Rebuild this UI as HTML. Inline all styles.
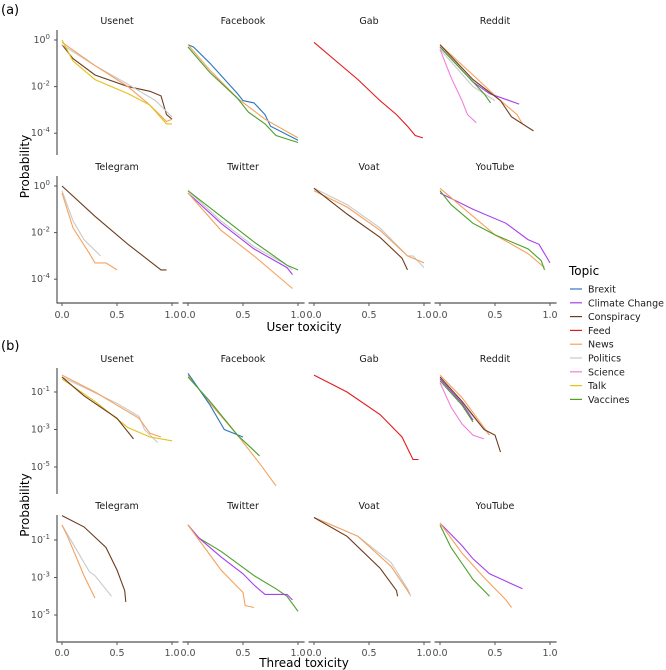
<!DOCTYPE html>
<html><head><meta charset="utf-8"><style>
html,body{margin:0;padding:0;background:#fff;}
svg{display:block;font-family:"DejaVu Sans","Liberation Sans",sans-serif;}
</style></head><body>
<svg id="chart" width="666" height="670" viewBox="0 0 666 670" xmlns="http://www.w3.org/2000/svg"></svg>
<script>
const topics = ["Brexit","Climate Change","Conspiracy","Feed","News","Politics","Science","Talk","Vaccines"];
const topicColors = ["#2b78c2","#a63ff0","#6e3b1c","#e31a1c","#f5a25d","#c9c9c9","#f27fd8","#e3c21a","#4aa02a"];
const platforms = ["Usenet","Facebook","Gab","Reddit","Telegram","Twitter","Voat","YouTube"];
const xTicks = [0, 0.5, 1.0];
const xTickLabels = ["0.0","0.5","1.0"];
const yTicksA = [0,-2,-4];
const yTicksB = [-1,-3,-5];
// series: [platformIndex, topic, x values, log10 probability values]
const seriesA = [
 [0,"Conspiracy",[0,0.1,0.3,0.6,0.8,0.9,0.95,1.0],[-0.2,-0.8,-1.5,-2.0,-2.2,-2.4,-3.2,-3.4]],
 [0,"Politics",[0,0.3,0.6,0.85,1.0],[-0.2,-1.1,-1.9,-2.6,-3.3]],
 [0,"News",[0,0.3,0.6,0.8,0.95,1.0],[-0.1,-1.1,-2.0,-2.8,-3.5,-3.4]],
 [0,"Talk",[0,0.1,0.3,0.6,0.8,0.95,1.0],[0,-0.9,-1.7,-2.3,-2.8,-3.6,-3.6]],
 [1,"Brexit",[0,0.05,0.2,0.45,0.5,0.6,0.7,0.75,1.0],[-0.2,-0.3,-1.0,-2.3,-2.6,-2.7,-3.2,-3.7,-4.3]],
 [1,"News",[0,0.2,0.45,0.7,1.0],[-0.2,-1.3,-2.5,-3.4,-4.2]],
 [1,"Vaccines",[0,0.2,0.45,0.55,0.7,0.8,1.0],[-0.3,-1.4,-2.5,-3.1,-3.6,-4.1,-4.4]],
 [2,"Feed",[0,0.2,0.4,0.6,0.75,0.85,0.92,0.99],[-0.1,-0.9,-1.7,-2.6,-3.2,-3.7,-4.1,-4.2]],
 [3,"Politics",[0,0.3,0.5],[-0.4,-2.0,-2.6]],
 [3,"News",[0,0.3,0.55,0.7,0.75],[-0.2,-1.5,-2.6,-3.2,-3.6]],
 [3,"Climate Change",[0,0.3,0.45,0.72],[-0.3,-1.8,-2.3,-2.75]],
 [3,"Vaccines",[0,0.2,0.4,0.46],[-0.3,-1.3,-2.3,-2.7]],
 [3,"Science",[0,0.1,0.2,0.25,0.33],[-0.4,-1.6,-2.6,-3.2,-3.55]],
 [3,"Conspiracy",[0,0.3,0.55,0.65,0.85],[-0.2,-1.7,-2.6,-3.3,-3.9]],
 [4,"Conspiracy",[0,0.3,0.6,0.9,0.95],[0,-1.3,-2.5,-3.6,-3.6]],
 [4,"Politics",[0,0.1,0.2,0.35],[-0.2,-1.5,-2.3,-3.0]],
 [4,"News",[0,0.1,0.25,0.3,0.4,0.5],[-0.3,-1.8,-2.9,-3.3,-3.3,-3.6]],
 [5,"Politics",[0,0.3,0.6,0.9,0.95],[-0.2,-1.5,-2.6,-3.4,-3.6]],
 [5,"Vaccines",[0,0.3,0.6,0.9,1.0],[-0.2,-1.3,-2.4,-3.4,-3.6]],
 [5,"Climate Change",[0,0.3,0.6,0.9,0.95],[-0.3,-1.6,-2.7,-3.5,-3.8]],
 [5,"News",[0,0.3,0.6,0.8,0.95],[-0.3,-1.9,-3.0,-3.8,-4.4]],
 [6,"Politics",[0,0.3,0.6,0.85,0.9,1.0],[-0.1,-0.8,-1.8,-3.0,-3.0,-3.5]],
 [6,"News",[0,0.3,0.6,0.85,1.0],[-0.2,-0.9,-1.9,-3.0,-3.3]],
 [6,"Conspiracy",[0,0.3,0.6,0.8,0.85],[-0.1,-1.2,-2.2,-3.1,-3.6]],
 [7,"Climate Change",[0,0.3,0.6,0.8,0.9,1.0],[-0.3,-1.0,-1.6,-2.3,-2.5,-3.3]],
 [7,"News",[0,0.3,0.5,0.8,0.95],[-0.1,-1.3,-2.1,-2.9,-3.5]],
 [7,"Vaccines",[0,0.1,0.3,0.5,0.8,0.92,0.95],[-0.2,-0.8,-1.6,-2.1,-2.7,-3.2,-3.6]]
];
const seriesB = [
 [0,"Politics",[0,0.5,0.7,0.75,0.87],[-0.2,-1.6,-2.3,-3.0,-3.7]],
 [0,"News",[0,0.3,0.7,0.8,0.9],[-0.1,-1.0,-2.4,-3.2,-3.4]],
 [0,"Talk",[0,0.3,0.6,0.8,1.0],[-0.3,-1.5,-2.9,-3.4,-3.6]],
 [0,"Conspiracy",[0,0.2,0.4,0.5,0.65],[-0.2,-1.2,-2.0,-2.4,-3.5]],
 [1,"News",[0,0.2,0.45,0.65,0.8],[-0.1,-1.6,-3.3,-4.8,-6.0]],
 [1,"Brexit",[0,0.2,0.33,0.5],[0,-1.7,-3.0,-3.4]],
 [1,"Vaccines",[0,0.2,0.45,0.65],[-0.2,-1.5,-3.3,-4.4]],
 [2,"Feed",[0,0.3,0.6,0.8,0.9,0.95],[-0.1,-1.0,-2.2,-3.4,-4.6,-4.6]],
 [3,"Politics",[0,0.3,0.45],[-0.3,-2.3,-3.3]],
 [3,"Science",[0,0.1,0.2,0.3,0.4],[-0.5,-1.8,-2.7,-3.3,-3.5]],
 [3,"Climate Change",[0,0.2,0.3],[-0.3,-1.6,-2.5]],
 [3,"Vaccines",[0,0.2,0.3],[-0.4,-1.7,-2.6]],
 [3,"News",[0,0.2,0.35,0.45],[-0.1,-1.3,-2.5,-3.3]],
 [3,"Conspiracy",[0,0.2,0.4,0.5,0.55],[-0.2,-1.5,-3.0,-3.3,-4.2]],
 [4,"Conspiracy",[0,0.2,0.4,0.5,0.57,0.58],[0.3,-0.3,-1.4,-2.6,-3.7,-4.3]],
 [4,"Politics",[0,0.1,0.25,0.3,0.45],[-0.2,-1.2,-2.7,-2.9,-4.0]],
 [4,"News",[0,0.05,0.2,0.3],[-0.2,-0.8,-2.9,-4.1]],
 [5,"Vaccines",[0,0.1,0.3,0.6,0.8,0.9,1.0],[-0.2,-0.9,-1.6,-2.9,-3.6,-4.0,-4.8]],
 [5,"Climate Change",[0,0.1,0.3,0.5,0.6,0.7,0.9,0.95],[-0.2,-0.9,-1.9,-2.8,-3.4,-3.9,-3.9,-4.2]],
 [5,"News",[0,0.1,0.3,0.5,0.52,0.6],[-0.2,-1.0,-2.6,-3.8,-4.5,-4.6]],
 [6,"Politics",[0,0.4,0.7,0.85,0.88],[0.2,-0.8,-2.2,-3.6,-4.0]],
 [6,"News",[0,0.4,0.7,0.85,0.87],[0.2,-0.8,-2.4,-3.7,-3.9]],
 [6,"Conspiracy",[0,0.3,0.6,0.75,0.76],[0.2,-0.8,-2.5,-3.7,-4.0]],
 [7,"Climate Change",[0,0.2,0.3,0.45,0.6,0.75],[-0.1,-1.3,-2.0,-2.8,-3.2,-3.6]],
 [7,"News",[0,0.2,0.4,0.6,0.65],[-0.1,-1.7,-3.0,-4.2,-4.6]],
 [7,"Vaccines",[0,0.1,0.3,0.45],[-0.2,-1.4,-3.1,-4.0]]
];

const svg = document.getElementById('chart');
const NS = "http://www.w3.org/2000/svg";
function mk(tag, attrs, parent){const e=document.createElementNS(NS,tag);for(const k in attrs)e.setAttribute(k,attrs[k]);(parent||svg).appendChild(e);return e;}
function xScale(col, v){return 62 + col*126 + v*110;}
const figs = [
 {label:"(a)", labelY:14, rowTop:[30,176], rowBot:[155,303], zeroY:[40,186], perDec:23.3, ticks:yTicksA, xTitle:"User toxicity", xTitleY:331, tickY:318, data:seriesA},
 {label:"(b)", labelY:350, rowTop:[368,515], rowBot:[494,642], zeroY:[373.25,521.25], perDec:18.75, ticks:yTicksB, xTitle:"Thread toxicity", xTitleY:667, tickY:656, data:seriesB}
];
figs.forEach((f,fi)=>{
  const lab = mk('text',{x:1,y:f.labelY,'font-size':13,fill:'#000'});
  lab.textContent=f.label;
  
  
  const yS=(row,l)=>f.zeroY[row]-l*f.perDec;
  platforms.forEach((p,pi)=>{
    const row=Math.floor(pi/4), col=pi%4;
    const g=mk('g',{});
    
    
    const t=mk('text',{x:xScale(col,0.5),y:f.rowTop[row]-6,'font-size':9.5,fill:'#1a1a1a','text-anchor':'middle'},g);
    t.textContent=p;
    
    
    if(col===0){
      const ax=mk('line',{x1:57,x2:57,y1:f.rowTop[row],y2:f.rowBot[row],stroke:'#555','stroke-width':1.2},g);
      
      
      f.ticks.forEach(tv=>{
        const yy=yS(row,tv);
        mk('line',{x1:54,x2:57,y1:yy,y2:yy,stroke:'#555'},g);
        const tl=mk('text',{x:50,y:yy+3,'font-size':9.5,fill:'#4d4d4d','text-anchor':'end'},g);
        
        
        tl.appendChild(document.createTextNode('10'));
        const sup=mk('tspan',{dy:-4,'font-size':7},tl);sup.textContent=String(tv);
      });
    }
    if(row===1){
      const xa=mk('line',{x1:xScale(col,-0.05),x2:xScale(col,1.06),y1:f.rowBot[1],y2:f.rowBot[1],stroke:'#555','stroke-width':1.2},g);
      
      
      xTicks.forEach((tv,ti)=>{
        const xx=xScale(col,tv);
        mk('line',{x1:xx,x2:xx,y1:f.rowBot[1],y2:f.rowBot[1]+3,stroke:'#555'},g);
        const tl=mk('text',{x:xx,y:f.tickY,'font-size':9.5,fill:'#4d4d4d','text-anchor':'middle'},g);
        tl.textContent=xTickLabels[ti];
        
        
      });
    }
  });
  f.data.forEach(s=>{
    const pi=s[0], row=Math.floor(pi/4), col=pi%4;
    const ci=topics.indexOf(s[1]);
    const pts=s[2].map((x,i)=>xScale(col,x).toFixed(1)+','+yS(row,s[3][i]).toFixed(1)).join(' ');
    const pl=mk('polyline',{points:pts,fill:'none',stroke:topicColors[ci],'stroke-width':1.1});
    
    
  });
  const yt=mk('text',{x:0,y:0,'font-size':12,fill:'#000','text-anchor':'middle',transform:`translate(29,${(f.rowTop[0]+f.rowBot[1])/2}) rotate(-90)`});
  yt.textContent='Probability';
  
  
  const xt=mk('text',{x:304,y:f.xTitleY,'font-size':12,fill:'#000','text-anchor':'middle'});
  xt.textContent=f.xTitle;
  
  
});
const lg=mk('g',{});


const lt=mk('text',{x:569,y:275,'font-size':12,fill:'#000'},lg);
lt.textContent='Topic';


topics.forEach((tp,i)=>{
  const y=289+i*13.8;
  const e=mk('g',{},lg);
  
  
  mk('line',{x1:570,x2:582,y1:y,y2:y,stroke:topicColors[i],'stroke-width':1.2},e);
  const tx=mk('text',{x:588,y:y+3.5,'font-size':9.5,fill:'#1a1a1a'},e);
  tx.textContent=tp;
});
</script>
</body></html>
